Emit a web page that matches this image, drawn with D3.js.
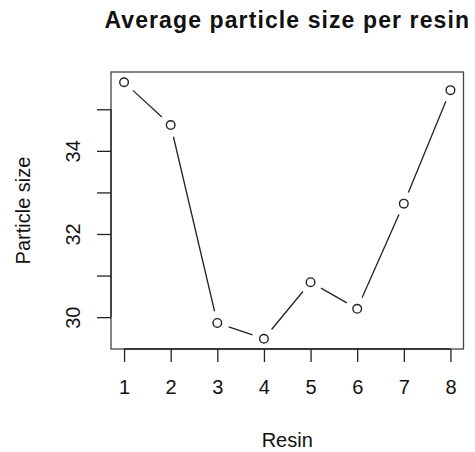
<!DOCTYPE html>
<html>
<head>
<meta charset="utf-8">
<script src="https://cdn.jsdelivr.net/npm/d3@7"></script>
<style>
  html, body { margin: 0; padding: 0; background: #fff; }
  svg { display: block; }
  text { font-family: "Liberation Sans", Arial, Helvetica, sans-serif; fill: #111; }
</style>
</head>
<body>
<svg id="chart" width="475" height="452"></svg>
<script>
const resins = [1, 2, 3, 4, 5, 6, 7, 8];
const particleSize = [35.65, 34.62, 29.86, 29.48, 30.84, 30.20, 32.73, 35.46];
const xTicks = [1, 2, 3, 4, 5, 6, 7, 8];
const yTicks = [30, 31, 32, 33, 34, 35];
const yTickLabels = ["30", "", "32", "", "34", ""];
const title = "Average particle size per resin";
const xLabel = "Resin";
const yLabel = "Particle size";

const svg = d3.select("#chart");
const plot = { left: 111, right: 463.5, top: 72, bottom: 349 };

function padExtent(arr) {
  const [lo, hi] = d3.extent(arr);
  const pad = (hi - lo) * 0.04;
  return [lo - pad, hi + pad];
}

const x = d3.scaleLinear().domain(padExtent(resins)).range([plot.left, plot.right]);
const y = d3.scaleLinear().domain(padExtent(particleSize)).range([plot.bottom, plot.top]);

const ink = "#222";
const font = '"Liberation Sans", Arial, Helvetica, sans-serif';

// Box
svg.append("rect")
  .attr("x", plot.left).attr("y", plot.top)
  .attr("width", plot.right - plot.left).attr("height", plot.bottom - plot.top)
  .attr("fill", "none").attr("stroke", "#444").attr("stroke-width", 1.3);

// X axis
const xAxis = d3.axisBottom(x).tickValues(xTicks).tickSize(13).tickPadding(18).tickFormat(d3.format("d"));
const gx = svg.append("g").attr("transform", `translate(0,${plot.bottom})`).call(xAxis);
gx.select(".domain").attr("d", `M${x(xTicks[0])},0H${x(xTicks[xTicks.length-1])}`).attr("stroke", ink).attr("stroke-width", 1.3);
gx.selectAll(".tick line").attr("stroke", ink).attr("stroke-width", 1.3);
gx.selectAll(".tick text").attr("font-size", 20).attr("fill", "#111").style("font-family", font);

// Y axis
const yAxis = d3.axisLeft(y).tickValues(yTicks).tickSize(14).tickFormat((d, i) => yTickLabels[i]);
const gy = svg.append("g").attr("transform", `translate(${plot.left},0)`).call(yAxis);
gy.select(".domain").attr("d", `M0,${y(yTicks[0])}V${y(yTicks[yTicks.length-1])}`).attr("stroke", ink).attr("stroke-width", 1.3);
gy.selectAll(".tick line").attr("stroke", ink).attr("stroke-width", 1.3);
gy.selectAll(".tick text")
  .attr("font-size", 20).attr("fill", "#111")
  .style("font-family", font)
  .attr("x", null).attr("dy", null)
  .attr("text-anchor", "middle")
  .attr("dominant-baseline", "central")
  .attr("transform", "translate(-38,0) rotate(-90)");

// Lines with gaps (type = "b")
const gap = 12;
const pts = resins.map((r, i) => [x(r), y(particleSize[i])]);
const segs = [];
for (let i = 0; i < pts.length - 1; i++) {
  const [x0, y0] = pts[i], [x1, y1] = pts[i + 1];
  const dx = x1 - x0, dy = y1 - y0, len = Math.hypot(dx, dy);
  if (len > 2 * gap) {
    const ux = dx / len, uy = dy / len;
    segs.push([x0 + ux * gap, y0 + uy * gap, x1 - ux * gap, y1 - uy * gap]);
  }
}
svg.append("g").selectAll("line").data(segs).join("line")
  .attr("x1", d => d[0]).attr("y1", d => d[1]).attr("x2", d => d[2]).attr("y2", d => d[3])
  .attr("stroke", ink).attr("stroke-width", 1.3);

svg.append("g").selectAll("circle").data(resins).join("circle")
  .attr("cx", d => x(d)).attr("cy", (d, i) => y(particleSize[i]))
  .attr("r", 4.3).attr("fill", "none").attr("stroke", ink).attr("stroke-width", 1.4);

// Titles
const cx = (plot.left + plot.right) / 2;
svg.append("text").attr("x", cx).attr("y", 28).attr("text-anchor", "middle")
  .attr("font-size", 23).attr("font-weight", "bold").attr("letter-spacing", 1.1).text(title);
svg.append("text").attr("x", cx).attr("y", 447).attr("text-anchor", "middle")
  .attr("font-size", 20).text(xLabel);
svg.append("text").attr("transform", `translate(30,${(plot.top + plot.bottom) / 2}) rotate(-90)`)
  .attr("text-anchor", "middle").attr("font-size", 20).text(yLabel);
</script>
</body>
</html>
